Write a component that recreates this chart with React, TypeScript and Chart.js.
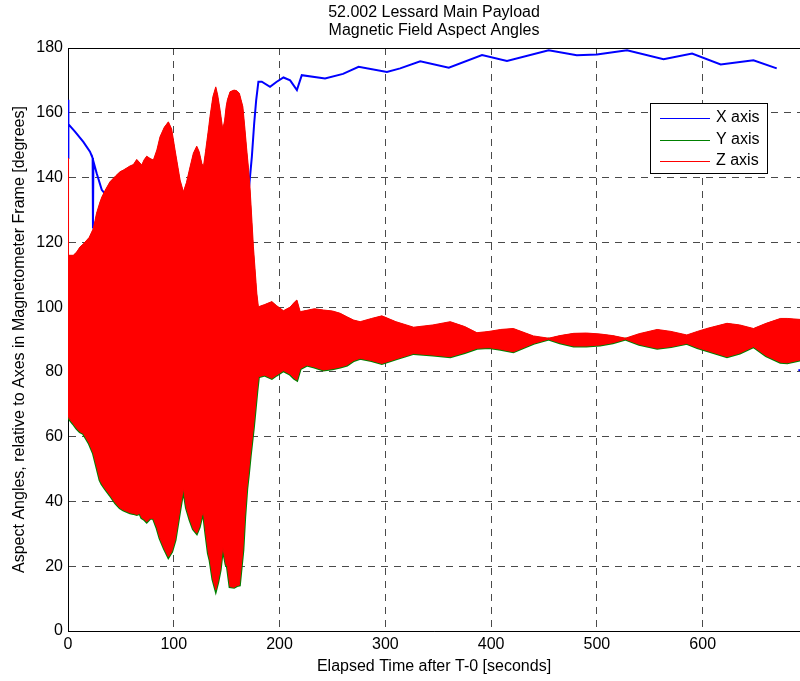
import React, { useEffect, useRef } from "react";
import { Chart, registerables } from "chart.js";

Chart.register(...registerables);

const titleLines = ["52.002 Lessard Main Payload", "Magnetic Field Aspect Angles"];
const xAxisTitle = "Elapsed Time after T-0 [seconds]";
const yAxisTitle = "Aspect Angles, relative to Axes in Magnetometer Frame [degrees]";
const legendLabels = ["X axis", "Y axis", "Z axis"];
const legendColors = ["#0000ff", "#008000", "#ff0000"];

const xTicks = [0, 100, 200, 300, 400, 500, 600];
const yTicks = [0, 20, 40, 60, 80, 100, 120, 140, 160, 180];

// X axis angle (blue)
const xTime = [0, 0.2, 0.5, 6.6, 14.5, 20.8, 23.3, 23.6, 24, 27.1, 31.9, 35, 45, 80, 120, 150, 168, 171.2, 173.8, 176, 177.9, 180, 183.2, 191, 197, 203.7, 210, 216.4, 221, 243, 260, 274.7, 301.5, 314, 333, 360, 391.4, 415, 454.4, 481, 500, 528.5, 563, 590, 617, 648, 670];
const xAngle = [146, 164, 156.5, 154.2, 151, 148, 146, 124.3, 145, 141.3, 136.2, 135, 128, 120, 115, 118, 125, 137.2, 146.4, 156.7, 163.9, 169.6, 169.6, 168, 169.5, 170.9, 170, 167, 171.6, 170.6, 172, 174.2, 172.6, 173.7, 175.9, 173.9, 177.8, 176, 179.3, 177.8, 178, 179.3, 176.5, 178.3, 174.9, 176.2, 173.7];
const xTailTime = [690.5, 700];
const xTailAngle = [80.6, 80.2];

// Envelope of the fast-spinning Y / Z angles (the oscillation fills the band)
const envTime = [0, 0.5, 5, 8.2, 11.4, 14.5, 20, 24, 27, 30.3, 32, 35, 39.7, 45, 49.2, 52.3, 58.7, 61.8, 65, 68, 69.7, 72, 74.4, 77.6, 80.7, 84, 87, 91, 94.9, 98, 101.2, 106, 109.1, 112, 115.4, 118.5, 121.7, 124, 126.5, 128, 130, 132.7, 134.3, 137, 139.7, 141.5, 143.8, 146.3, 148, 149.5, 150.7, 153.2, 157, 159.6, 162, 165.3, 167, 169, 170.6, 172.2, 175.3, 178.5, 180, 186, 192.7, 197, 203.7, 210, 214, 216.4, 219.5, 225.8, 233, 241.5, 250, 257.3, 263.7, 270, 276.2, 287, 296.7, 310, 326.7, 345, 361.4, 375, 386.6, 398, 409, 421, 440, 454.4, 465, 478, 490, 503, 515, 527, 540, 557, 570, 585, 595, 605, 623, 635, 648, 660, 673.5, 680, 692];
const envUpper = [146, 116, 116, 117, 118.6, 119.5, 121.5, 124.3, 129, 132.5, 134, 136, 138.7, 140.5, 141.8, 142.3, 143.6, 144, 145.6, 144.5, 143.9, 145.5, 146.6, 145.9, 145.4, 148.5, 152.6, 155.5, 157.2, 155, 148.5, 139.2, 135.6, 138.5, 143.3, 147.5, 149.7, 148, 144.4, 143.3, 148, 154.7, 159, 165, 168, 165.5, 160.8, 154.9, 157.5, 161.9, 164, 166.5, 167, 166.8, 166, 161.9, 156, 148.5, 143, 136.2, 118.6, 104.3, 100.1, 100.8, 101.7, 100.5, 98.9, 100, 101.5, 102.2, 98.6, 99, 99.5, 99.1, 98.8, 98.1, 97, 96, 95.5, 96.5, 97.3, 95.5, 93.8, 94.5, 95.5, 94, 92.1, 92.5, 93.1, 93.4, 91.1, 90.4, 91.2, 91.9, 92, 91.7, 91.2, 90.4, 91.8, 93.1, 92.5, 91.4, 92.5, 93.5, 95, 94.5, 93.4, 95, 96.5, 96.5, 96.2];
const envLower = [66, 66, 64, 62.6, 61.5, 61, 58, 54.9, 51, 46.6, 45.5, 44, 42, 39.5, 38, 37.4, 36.5, 36.3, 36, 36.3, 35, 34.5, 33.7, 34.8, 34.8, 32, 28.6, 25.5, 22.9, 24.5, 28.1, 38, 44.1, 38, 34.3, 31.5, 30.2, 32, 35.5, 36.8, 31, 24, 21.9, 16, 12.7, 15, 18.8, 26, 23, 20.5, 19.9, 13.7, 13.5, 14, 14.2, 25, 35, 44, 48.7, 54, 63, 74, 78.5, 79, 78, 79, 80.4, 79.3, 78, 77.5, 81, 82.1, 81.5, 80.6, 81, 81.5, 82.1, 83.5, 84.2, 83.5, 82.6, 84, 85.7, 85.2, 84.7, 86, 87.3, 87.5, 87, 86.2, 88.8, 90.1, 89, 88, 88, 88.3, 89, 90.1, 88.5, 87.3, 87.8, 88.8, 87.5, 86.5, 84.7, 85.8, 87.8, 85, 83, 82.8, 83.7];

const xMin = 0;
const xMax = 692;
const yMin = 0;
const yMax = 180;

const FONT = "'Liberation Sans', Arial, Helvetica, sans-serif";

const pts = (ts: number[], vs: number[]) => ts.map((t, i) => ({ x: t, y: vs[i] }));

const framePlugin = {
  id: "frameAndLegend",
  afterDraw(chart: any) {
    const { ctx, chartArea } = chart;
    ctx.save();
    // top frame line
    ctx.strokeStyle = "#000";
    ctx.lineWidth = 1;
    ctx.beginPath();
    ctx.moveTo(chartArea.left, chartArea.top + 0.5);
    ctx.lineTo(chartArea.right, chartArea.top + 0.5);
    ctx.stroke();

    // legend box
    const bx = chartArea.right - 150;
    const by = chartArea.top + 55;
    const bw = 117;
    const bh = 70;
    ctx.fillStyle = "#fff";
    ctx.fillRect(bx, by, bw, bh);
    ctx.strokeStyle = "#000";
    ctx.strokeRect(bx + 0.5, by + 0.5, bw, bh);
    ctx.font = `16px ${FONT}`;
    ctx.textBaseline = "middle";
    ctx.textAlign = "left";
    legendLabels.forEach((lab, i) => {
      const y = by + 15 + i * 21.5;
      ctx.strokeStyle = legendColors[i];
      ctx.lineWidth = 1;
      ctx.beginPath();
      ctx.moveTo(bx + 10, Math.round(y) + 0.5);
      ctx.lineTo(bx + 60, Math.round(y) + 0.5);
      ctx.stroke();
      ctx.fillStyle = "#000";
      ctx.fillText(lab, bx + 66, y);
    });
    ctx.restore();
  },
};

export default function App() {
  const ref = useRef<HTMLCanvasElement | null>(null);

  useEffect(() => {
    if (!ref.current) return;
    Chart.defaults.font.family = FONT;
    const gridColor = "#4a4a4a";
    const chart = new Chart(ref.current, {
      type: "line",
      data: {
        datasets: [
          {
            label: legendLabels[0],
            data: [...pts(xTime, xAngle), { x: 680, y: null }, ...pts(xTailTime, xTailAngle)] as any,
            borderColor: "#0000ff",
            borderWidth: 2,
            pointRadius: 0,
            fill: false,
            spanGaps: false,
            order: 3,
          },
          {
            label: legendLabels[1] + " max",
            data: pts(envTime, envUpper),
            borderColor: "#008000",
            borderWidth: 0,
            backgroundColor: "#008000",
            pointRadius: 0,
            fill: "+1",
            order: 2,
          },
          {
            label: legendLabels[1],
            data: pts(envTime, envLower),
            borderColor: "#008000",
            borderWidth: 3,
            pointRadius: 0,
            fill: false,
            order: 2,
          },
          {
            label: legendLabels[2] + " max",
            data: pts(envTime, envUpper),
            borderColor: "#ff0000",
            borderWidth: 1,
            backgroundColor: "#ff0000",
            pointRadius: 0,
            fill: "+1",
            order: 1,
          },
          {
            label: legendLabels[2],
            data: pts(envTime, envLower),
            borderColor: "#ff0000",
            borderWidth: 1,
            pointRadius: 0,
            fill: false,
            order: 1,
          },
        ],
      },
      options: {
        responsive: false,
        animation: false,
        events: [],
        layout: { padding: 0 },
        plugins: {
          legend: { display: false },
          tooltip: { enabled: false },
          title: {
            display: true,
            text: titleLines,
            fullSize: false,
            color: "#000",
            font: { family: FONT, size: 16, weight: "normal", lineHeight: 1.125 },
            padding: { top: 4, bottom: 8 },
          },
        },
        scales: {
          x: {
            type: "linear",
            min: xMin,
            max: xMax,
            afterBuildTicks: (s: any) => {
              s.ticks = xTicks.map((v) => ({ value: v }));
            },
            ticks: {
              color: "#000",
              font: { family: FONT, size: 16 },
              padding: 4,
              maxRotation: 0,
              autoSkip: false,
            },
            grid: { color: gridColor, lineWidth: 1, drawTicks: false },
            border: { display: true, color: "#000", width: 1, dash: [7, 6] },
            title: {
              display: true,
              text: xAxisTitle,
              color: "#000",
              font: { family: FONT, size: 16 },
              padding: { top: 0, bottom: 5 },
            },
            afterFit: (s: any) => {
              s.height = 50;
            },
          },
          y: {
            type: "linear",
            min: yMin,
            max: yMax,
            afterBuildTicks: (s: any) => {
              s.ticks = yTicks.map((v) => ({ value: v }));
            },
            ticks: {
              color: "#000",
              font: { family: FONT, size: 16 },
              padding: 5,
              autoSkip: false,
            },
            grid: { color: gridColor, lineWidth: 1, drawTicks: false },
            border: { display: true, color: "#000", width: 1, dash: [7, 6] },
            title: {
              display: true,
              text: yAxisTitle,
              color: "#000",
              font: { family: FONT, size: 16 },
              padding: { top: 10, bottom: 0 },
            },
            afterFit: (s: any) => {
              s.width = 68;
            },
          },
        },
      } as any,
      plugins: [framePlugin],
    });
    return () => chart.destroy();
  }, []);

  return (
    <div style={{ position: "absolute", left: 0, top: 0, width: 800, height: 681, background: "#fff" }}>
      <canvas ref={ref} width={800} height={681} style={{ display: "block" }} />
    </div>
  );
}
